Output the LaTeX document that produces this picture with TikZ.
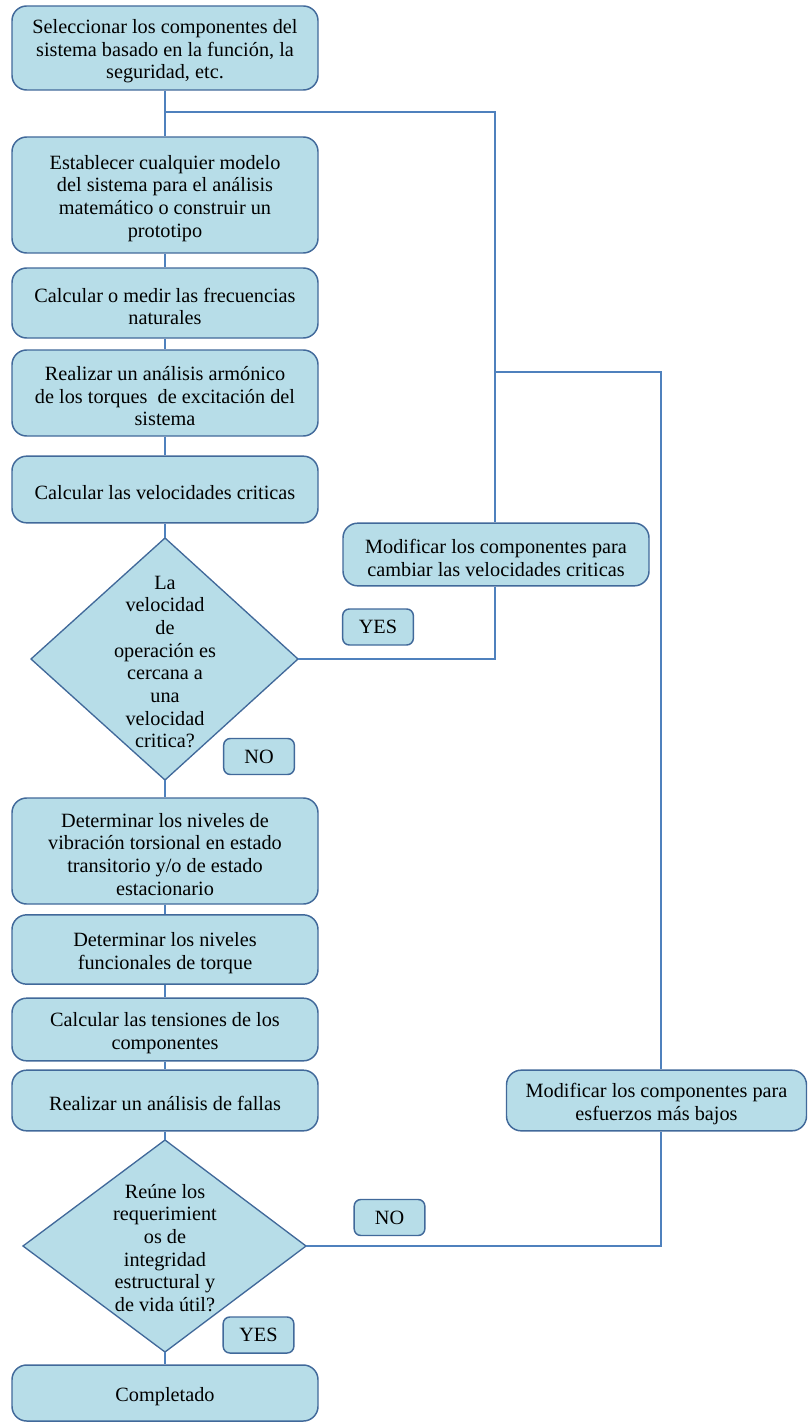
\documentclass[tikz,border=0pt]{standalone}
\usepackage{fontspec}
\setmainfont{Liberation Serif}
\definecolor{boxfill}{HTML}{B7DDE8}
\definecolor{boxline}{HTML}{41699A}
\definecolor{conn}{HTML}{4F81BD}
\begin{document}
\begin{tikzpicture}[x=0.75pt,y=-0.75pt,
  font=\fontsize{15.2}{17}\selectfont,
  txt/.style={align=center,inner sep=0pt,yshift=-2.5pt},
  proc/.style={draw=boxline,fill=boxfill,line width=1.1pt,rounded corners=11pt,
    inner sep=0pt,label={[txt]center:#1}},
  tag/.style={draw=boxline,fill=boxfill,line width=1.1pt,rounded corners=5pt,
    align=center,inner sep=0pt,minimum width=53pt,minimum height=27pt},
  dia/.style={draw=boxline,fill=boxfill,line width=1pt,line join=miter},
  dtext/.style={align=center,inner sep=0pt},
  wire/.style={draw=conn,line width=1pt}]
\useasboundingbox (0,0) rectangle (808,1423);

% main column of process boxes (x from 12 to 318)
\node[proc={Seleccionar los componentes del\\sistema basado en la función, la\\seguridad, etc.},
  minimum width=229.5pt,minimum height=63pt] (b1) at (165,48) {};
\node[proc={Establecer cualquier modelo\\del sistema para el análisis\\matemático o construir un\\prototipo},
  minimum width=229.5pt,minimum height=87pt] (b2) at (165,195) {};
\node[proc={Calcular o medir las frecuencias\\naturales},
  minimum width=229.5pt,minimum height=52.5pt] (b3) at (165,303) {};
\node[proc={Realizar un análisis armónico\\de los torques\ \ de excitación del\\sistema},
  minimum width=229.5pt,minimum height=64.5pt] (b4) at (165,393) {};
\node[proc={Calcular las velocidades criticas},
  minimum width=229.5pt,minimum height=50pt] (b5) at (165,489.5) {};

% first decision
\coordinate (d1t) at (165,538);
\coordinate (d1r) at (298,659);
\coordinate (d1b) at (165,780);
\coordinate (d1l) at (31,659);
\draw[dia] (d1t) -- (d1r) -- (d1b) -- (d1l) -- cycle;
\node[dtext] (d1) at (165,662)
  {La\\velocidad\\de\\operación es\\cercana a\\una\\velocidad\\critica?};

\node[proc={Determinar los niveles de\\vibración torsional en estado\\transitorio y/o de estado\\estacionario},
  minimum width=229.5pt,minimum height=79.5pt] (b6) at (165,851) {};
\node[proc={Determinar los niveles\\funcionales de torque},
  minimum width=229.5pt,minimum height=52pt] (b7) at (165,949.5) {};
\node[proc={Calcular las tensiones de los\\componentes},
  minimum width=229.5pt,minimum height=47pt] (b8) at (165,1029.5) {};
\node[proc={Realizar un análisis de fallas},
  minimum width=229.5pt,minimum height=45.5pt] (b9) at (165,1100.5) {};

% second decision
\coordinate (d2t) at (165,1140);
\coordinate (d2r) at (306,1246);
\coordinate (d2b) at (165,1352);
\coordinate (d2l) at (23,1246);
\draw[dia] (d2t) -- (d2r) -- (d2b) -- (d2l) -- cycle;
\node[dtext] (d2) at (165,1248)
  {Reúne los\\requerimient\\os de\\integridad\\estructural y\\de vida útil?};

\node[proc={Completado},minimum width=229.5pt,minimum height=42pt] (b10) at (165,1393) {};

% side boxes
\node[proc={Modificar los componentes para\\cambiar las velocidades criticas},
  minimum width=229.5pt,minimum height=47pt] (m1) at (496,554.5) {};
\node[proc={Modificar los componentes para\\esfuerzos más bajos},
  minimum width=225pt,minimum height=45.5pt] (m2) at (656.5,1100.5) {};

% branch labels
\node[tag] (yes1) at (378,627) {YES};
\node[tag] (no1) at (259,756.5) {NO};
\node[tag] (no2) at (389.5,1217.5) {NO};
\node[tag] (yes2) at (258.5,1335) {YES};

% junctions of the feedback lines
\coordinate (j1) at (165,112);
\coordinate (j1r) at (495,112);
\coordinate (j2) at (495,372);
\coordinate (j2r) at (661,372);
\coordinate (k1) at (495,659);
\coordinate (k2) at (661,1246);

% main flow
\draw[wire] (b1.south) -- (b2.north);
\draw[wire] (b2.south) -- (b3.north);
\draw[wire] (b3.south) -- (b4.north);
\draw[wire] (b4.south) -- (b5.north);
\draw[wire] (b5.south) -- (d1t);
\draw[wire] (d1b) -- (b6.north);
\draw[wire] (b6.south) -- (b7.north);
\draw[wire] (b7.south) -- (b8.north);
\draw[wire] (b8.south) -- (b9.north);
\draw[wire] (b9.south) -- (d2t);
\draw[wire] (d2b) -- (b10.north);

% feedback loops
\draw[wire] (j1) -- (j1r) -- (j1r |- m1.north);
\draw[wire] (j2) -- (j2r) -- (j2r |- m2.north);
\draw[wire] (m1.south -| k1) -- (k1) -- (d1r);
\draw[wire] (m2.south -| k2) -- (k2) -- (d2r);
\end{tikzpicture}
\end{document}
